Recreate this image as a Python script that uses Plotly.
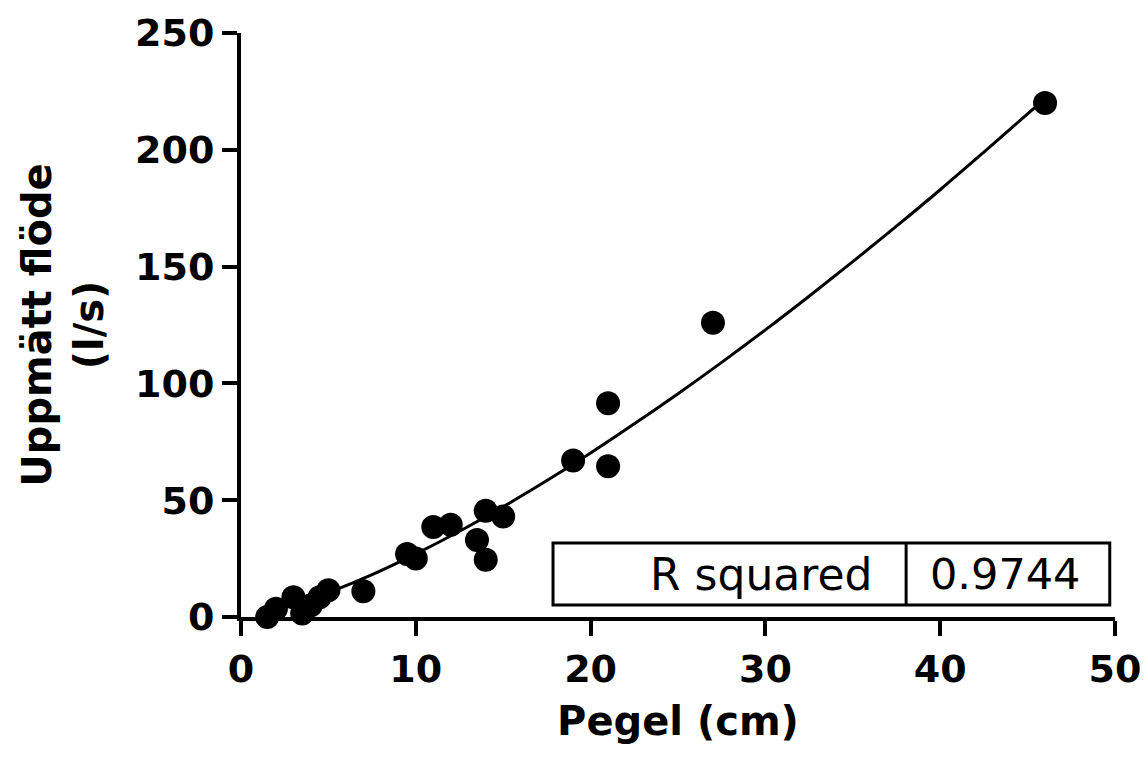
import plotly.graph_objects as go

pegel_cm = [1.5, 2, 3, 3.5, 4, 4.5, 5, 7, 9.5, 10, 11, 12, 13.5, 14, 14, 15, 19, 21, 21, 27, 46]
flode_ls = [0, 3.5, 8.5, 1.5, 5, 8.5, 11.5, 11, 27, 25, 38.5, 39.5, 33, 45.5, 24.5, 43, 67, 91.5, 64.5, 126, 220]

# Fitted curve
fit_x = [1.5, 3, 5, 7.5, 10, 12.5, 15, 17.5, 20, 22.5, 25, 27.5, 30, 32.5, 35, 37.5, 40, 42.5, 46]
fit_y = [2.0, 5.1, 10.4, 18.1, 27.0, 36.7, 47.2, 58.4, 70.2, 82.7, 95.6, 109.0, 122.9, 137.3, 152.1, 167.3, 182.9, 199.0, 221.9]

x_ticks = [0, 10, 20, 30, 40, 50]
y_ticks = [0, 50, 100, 150, 200, 250]
r2_label = "R squared"
r2_value = "0.9744"

FONT = "DejaVu Sans, sans-serif"

fig = go.Figure()
fig.add_trace(go.Scatter(x=fit_x, y=fit_y, mode="lines", line=dict(color="black", width=3, shape="spline"),
                         hoverinfo="skip", showlegend=False))
fig.add_trace(go.Scatter(x=pegel_cm, y=flode_ls, mode="markers",
                         marker=dict(color="black", size=24), cliponaxis=False, showlegend=False))

# R squared table
box_y0, box_y1 = 5.1, 31.7
fig.add_shape(type="rect", x0=17.85, x1=49.7, y0=box_y0, y1=box_y1, xref="x", yref="y",
              line=dict(color="black", width=3), fillcolor="white", layer="above")
fig.add_shape(type="line", x0=38.05, x1=38.05, y0=box_y0, y1=box_y1, xref="x", yref="y",
              line=dict(color="black", width=3), layer="above")
fig.add_annotation(x=36.2, y=(box_y0 + box_y1) / 2, xref="x", yref="y", text=r2_label, showarrow=False,
                   xanchor="right", yanchor="middle", font=dict(family=FONT, size=44, color="black"))
fig.add_annotation(x=48.1, y=(box_y0 + box_y1) / 2, xref="x", yref="y", text=r2_value, showarrow=False,
                   xanchor="right", yanchor="middle", font=dict(family=FONT, size=43, color="black"))

axis_common = dict(showline=True, linecolor="black", linewidth=4, ticks="outside", ticklen=15,
                   tickwidth=4, tickcolor="black", showgrid=False, zeroline=False, automargin=False,
                   ticklabeloverflow="allow",
                   tickfont=dict(family=FONT, size=38, color="black", weight="bold"))

fig.update_xaxes(range=[0, 50], tickvals=x_ticks, ticktext=[str(v) for v in x_ticks],
                 title=dict(text="<b>Pegel (cm)</b>", font=dict(family=FONT, size=40, color="black"), standoff=18),
                 **axis_common)
fig.update_yaxes(range=[0, 250], tickvals=y_ticks, ticktext=[str(v) for v in y_ticks],
                 title=dict(text="<b>Uppmätt flöde<br>(l/s)</b>", font=dict(family=FONT, size=40, color="black"), standoff=20),
                 **axis_common)

fig.update_layout(width=1144, height=772, margin=dict(l=241, r=29, t=33, b=155),
                  plot_bgcolor="white", paper_bgcolor="white")

fig.write_html("out.html", config={"displayModeBar": False},
               post_script="document.body.style.margin='0';document.body.style.overflow='hidden';")
